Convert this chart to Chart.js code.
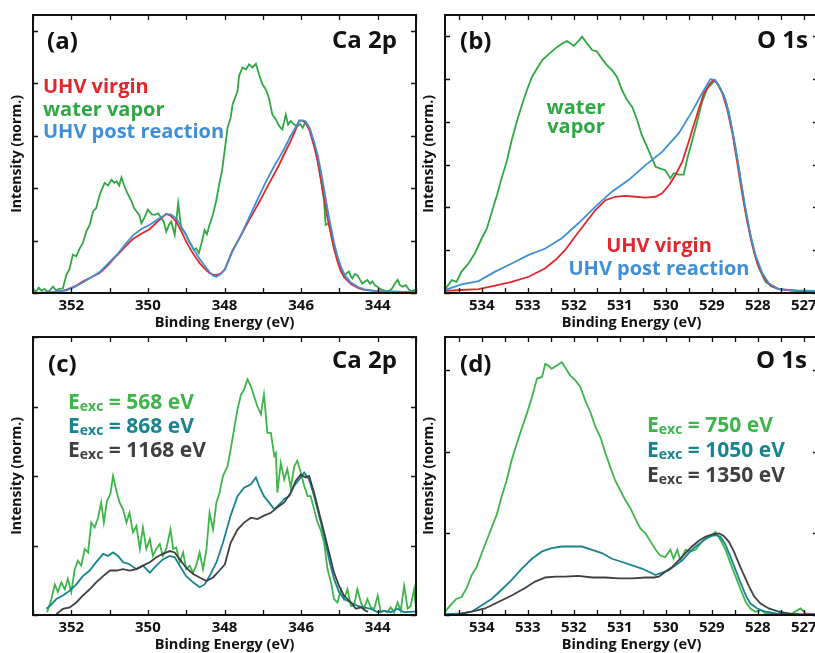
<!DOCTYPE html>
<html>
<head>
<meta charset="utf-8">
<title>Ca 2p / O 1s</title>
<script src="https://cdn.jsdelivr.net/npm/chart.js@4.4.1/dist/chart.umd.min.js"></script>
<style>
    html, body { margin: 0; padding: 0; background: #fff; overflow: hidden; }
    #page { position: relative; width: 815px; height: 653px; overflow: hidden;
            font-family: 'Open Sans', sans-serif; font-weight: 700; color: #111; }
    #page canvas { position: absolute; }
    .t { position: absolute; line-height: 1; white-space: nowrap; }
    .lab { font-size: 24px; }
    .leg { font-size: 20px; }
    .exc { font-size: 21px; }
    .sub { font-size: 14px; vertical-align: -2px; }
</style>
</head>
<body>
<div id="page">
    <canvas id="chartA" width="430" height="332" style="left:0;top:0"></canvas>
    <canvas id="chartB" width="420" height="332" style="left:412px;top:0"></canvas>
    <canvas id="chartC" width="430" height="332" style="left:0;top:322px"></canvas>
    <canvas id="chartD" width="420" height="332" style="left:412px;top:322px"></canvas>

    <div class="t lab" style="left:47px;top:28.2px">(a)</div>
    <div class="t lab" style="right:418px;top:26.7px">Ca 2p</div>
    <div class="t leg" style="left:43px;top:76.2px;color:#e3262c">UHV virgin</div>
    <div class="t leg" style="left:43px;top:98.7px;color:#2fa843">water vapor</div>
    <div class="t leg" style="left:43px;top:121.2px;color:#3f8fd6">UHV post reaction</div>

    <div class="t lab" style="left:460px;top:28.2px">(b)</div>
    <div class="t lab" style="right:7px;top:26.7px">O 1s</div>
    <div class="t leg" style="left:526px;width:100px;text-align:center;top:97.2px;color:#2fa843">water</div>
    <div class="t leg" style="left:526px;width:100px;text-align:center;top:116.2px;color:#2fa843">vapor</div>
    <div class="t leg" style="left:559px;width:200px;text-align:center;top:234.5px;color:#e3262c">UHV virgin</div>
    <div class="t leg" style="left:559px;width:200px;text-align:center;top:258.2px;color:#3f8fd6">UHV post reaction</div>

    <div class="t lab" style="left:48px;top:350.7px">(c)</div>
    <div class="t lab" style="right:418px;top:346.7px">Ca 2p</div>
    <div class="t exc" style="left:68px;top:391.4px;color:#3db54a">E<span class="sub">exc</span> = 568 eV</div>
    <div class="t exc" style="left:68px;top:415.4px;color:#18848f">E<span class="sub">exc</span> = 868 eV</div>
    <div class="t exc" style="left:68px;top:439.4px;color:#404040">E<span class="sub">exc</span> = 1168 eV</div>

    <div class="t lab" style="left:460px;top:350.7px">(d)</div>
    <div class="t lab" style="right:8px;top:346.7px">O 1s</div>
    <div class="t exc" style="left:647px;top:414.4px;color:#3db54a">E<span class="sub">exc</span> = 750 eV</div>
    <div class="t exc" style="left:647px;top:439.4px;color:#18848f">E<span class="sub">exc</span> = 1050 eV</div>
    <div class="t exc" style="left:647px;top:464.4px;color:#404040">E<span class="sub">exc</span> = 1350 eV</div>
</div>

<script>
/*------------------------------------ DATA (a) Ca 2p ------------------------------------*/
const aRedE = [353.0, 352.8, 352.6, 352.4, 352.13, 351.9, 351.7, 351.48, 351.26, 351.04,
    350.82, 350.6, 350.39, 350.17, 349.95, 349.75, 349.52, 349.4, 349.26, 349.13,
    349.0, 348.83, 348.65, 348.5, 348.39, 348.3, 348.21, 348.1, 347.99, 347.8,
    347.57, 347.35, 347.14, 346.92, 346.7, 346.57, 346.44, 346.27, 346.15, 346.05,
    345.95, 345.88, 345.78, 345.66, 345.57, 345.49, 345.4, 345.31, 345.22, 345.14,
    345.05, 344.96, 344.85, 344.7, 344.5, 344.35, 344.1, 343.92, 343.6, 343.3, 343.0];
const aRedI = [0.0, 0.0, 0.01, 0.02, 0.06, 0.13, 0.22, 0.30, 0.38, 0.53,
    0.71, 0.88, 1.03, 1.13, 1.22, 1.36, 1.51, 1.47, 1.36, 1.18,
    0.98, 0.76, 0.57, 0.45, 0.38, 0.35, 0.34, 0.37, 0.45, 0.80,
    1.10, 1.40, 1.67, 1.97, 2.27, 2.45, 2.65, 2.90, 3.10, 3.29,
    3.28, 3.24, 3.10, 2.80, 2.52, 2.19, 1.80, 1.43, 1.12, 0.85,
    0.60, 0.41, 0.28, 0.17, 0.09, 0.06, 0.04, 0.03, 0.02, 0.02, 0.02];
const aBlueE = aRedE;
const aBlueI = [0.0, 0.0, 0.01, 0.02, 0.05, 0.12, 0.20, 0.30, 0.40, 0.56,
    0.72, 0.92, 1.10, 1.22, 1.30, 1.40, 1.50, 1.50, 1.42, 1.27,
    1.10, 0.86, 0.65, 0.50, 0.40, 0.33, 0.31, 0.36, 0.45, 0.78,
    1.10, 1.45, 1.78, 2.12, 2.42, 2.58, 2.75, 3.0, 3.15, 3.28,
    3.29, 3.27, 3.15, 2.88, 2.64, 2.35, 1.98, 1.60, 1.25, 0.96,
    0.70, 0.50, 0.33, 0.20, 0.11, 0.07, 0.04, 0.03, 0.03, 0.02, 0.02];
const aGreenE = [353.0, 352.92, 352.85, 352.78, 352.7, 352.62, 352.55, 352.48, 352.4, 352.32,
    352.22, 352.13, 352.05, 351.96, 351.87, 351.78, 351.7, 351.61, 351.52, 351.43,
    351.35, 351.26, 351.2, 351.13, 351.04, 350.95, 350.88, 350.82, 350.75, 350.69,
    350.62, 350.56, 350.5, 350.43, 350.36, 350.3, 350.22, 350.17, 350.08, 350.0,
    349.9, 349.82, 349.73, 349.65, 349.58, 349.52, 349.45, 349.39, 349.3, 349.21,
    349.13, 349.06, 349.0, 348.93, 348.87, 348.8, 348.74, 348.67, 348.6, 348.52,
    348.46, 348.39, 348.3, 348.22, 348.13, 348.06, 347.99, 347.92, 347.84, 347.79,
    347.71, 347.66, 347.62, 347.53, 347.44, 347.36, 347.27, 347.18, 347.1, 347.01,
    346.92, 346.84, 346.75, 346.66, 346.57, 346.49, 346.4, 346.34, 346.27, 346.18,
    346.1, 346.02, 345.96, 345.9, 345.83, 345.75, 345.66, 345.6, 345.53, 345.46,
    345.4, 345.36, 345.27, 345.2, 345.14, 345.08, 345.01, 344.94, 344.88, 344.81,
    344.75, 344.7, 344.66, 344.6, 344.53, 344.46, 344.4, 344.33, 344.27, 344.2,
    344.14, 344.08, 344.01, 343.94, 343.88, 343.8, 343.75, 343.68, 343.62, 343.55,
    343.48, 343.42, 343.35, 343.27, 343.2, 343.14, 343.07, 343.0];
const aGreenI = [0.06, 0.03, 0.10, 0.04, 0.08, 0.02, 0.06, 0.12, 0.05, 0.08,
    0.09, 0.34, 0.45, 0.73, 0.70, 0.85, 0.95, 1.17, 1.30, 1.56,
    1.62, 1.87, 1.98, 2.10, 2.05, 2.16, 2.10, 2.13, 2.05, 2.20,
    2.05, 1.94, 1.85, 1.75, 1.62, 1.56, 1.48, 1.33, 1.45, 1.59,
    1.50, 1.49, 1.52, 1.43, 1.35, 1.17, 1.30, 1.36, 1.11, 1.71,
    1.24, 1.18, 1.11, 0.98, 0.92, 0.82, 0.85, 0.76, 0.95, 1.20,
    1.12, 1.30, 1.50, 1.75, 2.10, 2.35, 2.75, 3.15, 3.34, 3.59,
    3.75, 3.85, 4.14, 4.30, 4.26, 4.36, 4.30, 4.37, 4.17, 3.98,
    3.88, 3.72, 3.40, 3.31, 3.18, 3.12, 3.40, 3.21, 3.28, 3.21,
    3.18, 3.22, 3.15, 3.24, 3.21, 3.08, 2.80, 2.65, 2.38, 2.05,
    1.75, 1.30, 1.33, 1.05, 0.85, 0.70, 0.57, 0.45, 0.31, 0.38,
    0.41, 0.32, 0.28, 0.36, 0.34, 0.25, 0.18, 0.22, 0.25, 0.18,
    0.22, 0.15, 0.12, 0.08, 0.06, 0.04, 0.03, 0.05, 0.09, 0.18,
    0.25, 0.15, 0.12, 0.15, 0.08, 0.03, 0.05, 0.06];

/*------------------------------------ DATA (b) O 1s -------------------------------------*/
const bGreenE = [534.8, 534.65, 534.55, 534.44, 534.29, 534.15, 534.0, 533.89, 533.78, 533.67,
    533.57, 533.46, 533.35, 533.24, 533.13, 533.02, 532.91, 532.8, 532.69, 532.55,
    532.4, 532.26, 532.15, 532.0, 531.9, 531.82, 531.71, 531.6, 531.5, 531.39,
    531.28, 531.17, 531.06, 530.95, 530.84, 530.73, 530.62, 530.52, 530.41, 530.3,
    530.22, 530.12, 530.01, 529.9, 529.83, 529.72, 529.61, 529.53, 529.43, 529.32,
    529.21, 529.1, 528.99, 528.93, 528.85, 528.74, 528.63, 528.52, 528.41, 528.3,
    528.19, 528.08, 527.97, 527.83, 527.68, 527.54, 527.32, 527.1, 526.81, 526.69];
const bGreenI = [0.09, 0.30, 0.26, 0.50, 0.69, 0.93, 1.28, 1.51, 1.90, 2.29,
    2.68, 3.07, 3.57, 4.0, 4.39, 4.74, 5.05, 5.25, 5.44, 5.58,
    5.72, 5.83, 5.89, 5.78, 5.89, 5.99, 5.83, 5.68, 5.65, 5.48,
    5.33, 5.21, 5.05, 4.74, 4.51, 4.35, 4.04, 3.69, 3.42, 3.15,
    2.95, 2.91, 2.87, 2.68, 2.80, 2.77, 2.77, 3.15, 3.54, 4.0,
    4.47, 4.78, 4.9, 4.98, 4.86, 4.63, 4.24, 3.61, 2.91, 2.13,
    1.51, 0.97, 0.58, 0.26, 0.15, 0.09, 0.06, 0.05, 0.05, 0.05];
const bRedE = [534.8, 534.44, 534.07, 533.71, 533.35, 532.98, 532.62, 532.4, 532.19, 531.97,
    531.75, 531.53, 531.31, 531.1, 530.88, 530.66, 530.44, 530.22, 530.08, 529.93,
    529.79, 529.64, 529.5, 529.39, 529.28, 529.17, 529.06, 528.97, 528.88, 528.77,
    528.66, 528.55, 528.45, 528.34, 528.23, 528.12, 528.01, 527.86, 527.72, 527.54,
    527.17, 526.81, 526.69];
const bRedI = [0.05, 0.07, 0.09, 0.17, 0.26, 0.38, 0.58, 0.77, 1.0, 1.32,
    1.63, 1.94, 2.17, 2.25, 2.27, 2.25, 2.23, 2.25, 2.33, 2.52,
    2.76, 3.07, 3.54, 3.93, 4.31, 4.67, 4.86, 4.98, 4.9, 4.67,
    4.28, 3.73, 3.07, 2.33, 1.67, 1.12, 0.69, 0.34, 0.17, 0.09,
    0.05, 0.03, 0.03];
const bBlueE = [534.8, 534.44, 534.07, 533.71, 533.35, 532.98, 532.62, 532.26, 531.9, 531.53,
    531.17, 530.81, 530.44, 530.08, 529.72, 529.43, 529.21, 529.03, 528.93, 528.81,
    528.7, 528.59, 528.48, 528.37, 528.26, 528.16, 528.05, 527.9, 527.76, 527.54,
    527.17, 526.81, 526.69];
const bBlueI = [0.07, 0.20, 0.28, 0.50, 0.69, 0.89, 1.04, 1.28, 1.63, 2.02,
    2.37, 2.64, 2.99, 3.30, 3.73, 4.24, 4.67, 5.0, 4.98, 4.78,
    4.51, 4.0, 3.38, 2.64, 1.94, 1.36, 0.89, 0.46, 0.23, 0.09,
    0.06, 0.05, 0.05];

/*------------------------------------ DATA (c) Ca 2p ------------------------------------*/
const cGreenE = [352.63, 352.52, 352.43, 352.35, 352.26, 352.17, 352.09, 352.0, 351.91, 351.83,
    351.74, 351.65, 351.56, 351.48, 351.39, 351.3, 351.22, 351.15, 351.07, 350.98,
    350.91, 350.82, 350.74, 350.65, 350.56, 350.48, 350.39, 350.3, 350.21, 350.13,
    350.04, 349.95, 349.87, 349.78, 349.69, 349.61, 349.52, 349.41, 349.34, 349.26,
    349.17, 349.08, 349.0, 348.91, 348.82, 348.74, 348.65, 348.56, 348.47, 348.39,
    348.3, 348.21, 348.13, 348.04, 347.92, 347.84, 347.75, 347.66, 347.57, 347.49,
    347.4, 347.31, 347.23, 347.14, 347.05, 346.97, 346.88, 346.79, 346.7, 346.66,
    346.62, 346.53, 346.44, 346.36, 346.27, 346.18, 346.1, 346.01, 345.92, 345.83,
    345.75, 345.66, 345.57, 345.49, 345.4, 345.31, 345.22, 345.14, 345.05, 344.96,
    344.88, 344.79, 344.7, 344.62, 344.53, 344.44, 344.36, 344.27, 344.18, 344.09,
    344.0, 343.92, 343.83, 343.75, 343.66, 343.57, 343.48, 343.4, 343.31, 343.22,
    343.14, 343.05, 343.0];
const cGreenI = [0.04, 0.23, 0.44, 0.33, 0.47, 0.37, 0.52, 0.33, 0.66, 0.78,
    0.71, 0.95, 0.90, 1.33, 1.26, 1.40, 1.62, 1.33, 1.64, 1.74,
    2.0, 1.78, 1.62, 1.52, 1.33, 1.47, 1.19, 1.28, 0.95, 1.26,
    0.95, 1.09, 0.85, 0.95, 1.02, 0.85, 0.95, 1.23, 0.95, 0.97,
    0.76, 0.90, 0.66, 0.71, 0.61, 0.71, 0.90, 0.66, 0.95, 1.47,
    1.23, 1.62, 1.76, 2.0, 2.14, 2.38, 2.67, 2.96, 3.17, 3.24,
    3.39, 3.29, 3.15, 3.0, 2.89, 3.17, 2.62, 2.62, 2.29, 2.33,
    1.76, 2.19, 1.95, 2.10, 1.83, 2.14, 2.22, 2.05, 1.86, 1.71,
    1.71, 1.52, 1.33, 1.23, 1.04, 0.66, 0.47, 0.23, 0.18, 0.37,
    0.23, 0.37, 0.13, 0.13, 0.37, 0.18, 0.09, 0.23, 0.11, 0.09,
    0.28, 0.04, 0.06, 0.04, 0.11, 0.04, 0.18, 0.06, 0.42, 0.09,
    0.13, 0.37, 0.10];
const cTealE = [352.65, 352.56, 352.39, 352.22, 352.04, 351.87, 351.7, 351.52, 351.35, 351.17,
    351.04, 350.91, 350.78, 350.65, 350.48, 350.3, 350.13, 349.95, 349.78, 349.61,
    349.43, 349.3, 349.17, 349.0, 348.82, 348.65, 348.52, 348.39, 348.21, 348.04,
    347.84, 347.66, 347.49, 347.31, 347.18, 347.1, 346.97, 346.84, 346.7, 346.57,
    346.44, 346.31, 346.18, 346.05, 345.92, 345.79, 345.66, 345.53, 345.4, 345.27,
    345.14, 345.01, 344.88, 344.7, 344.53, 344.36, 344.18, 344.0, 343.83, 343.66,
    343.48, 343.31, 343.05, 343.0];
const cTealI = [0.09, 0.13, 0.23, 0.28, 0.35, 0.44, 0.56, 0.64, 0.76, 0.88,
    0.85, 0.90, 0.85, 0.76, 0.73, 0.66, 0.71, 0.61, 0.71, 0.80,
    0.85, 0.83, 0.71, 0.56, 0.47, 0.40, 0.44, 0.56, 0.76, 1.04,
    1.43, 1.71, 1.83, 1.88, 1.98, 1.86, 1.71, 1.62, 1.52, 1.59,
    1.67, 1.71, 1.86, 1.95, 2.05, 1.95, 1.71, 1.43, 1.14, 0.80,
    0.52, 0.33, 0.23, 0.18, 0.13, 0.11, 0.09, 0.04, 0.06, 0.04,
    0.09, 0.04, 0.05, 0.05];
const cGrayE = [352.39, 352.22, 352.04, 351.87, 351.7, 351.52, 351.35, 351.17, 350.99, 350.82,
    350.65, 350.48, 350.3, 350.13, 349.95, 349.78, 349.61, 349.43, 349.3, 349.17,
    349.0, 348.82, 348.65, 348.47, 348.3, 348.13, 347.99, 347.84, 347.66, 347.49,
    347.31, 347.14, 346.97, 346.79, 346.62, 346.44, 346.27, 346.14, 346.01, 345.88,
    345.79, 345.66, 345.53, 345.4, 345.27, 345.14, 345.01, 344.88, 344.7, 344.57,
    344.44, 344.31, 344.25];
const cGrayI = [0.01, 0.09, 0.11, 0.18, 0.28, 0.37, 0.47, 0.56, 0.64, 0.64,
    0.66, 0.64, 0.66, 0.71, 0.76, 0.83, 0.88, 0.92, 0.90, 0.80,
    0.68, 0.59, 0.54, 0.49, 0.54, 0.64, 0.73, 1.04, 1.23, 1.33,
    1.40, 1.38, 1.43, 1.47, 1.55, 1.62, 1.76, 1.93, 2.02, 1.98,
    2.0, 1.76, 1.47, 1.19, 0.90, 0.61, 0.42, 0.28, 0.18, 0.09,
    0.11, 0.06, 0.05];

/*------------------------------------ DATA (d) O 1s -------------------------------------*/
const dGreenE = [534.8, 534.65, 534.55, 534.44, 534.33, 534.22, 534.11, 534.0, 533.89, 533.78,
    533.67, 533.57, 533.46, 533.35, 533.24, 533.13, 533.02, 532.91, 532.8, 532.69,
    532.62, 532.55, 532.48, 532.37, 532.26, 532.19, 532.08, 531.97, 531.86, 531.75,
    531.64, 531.53, 531.42, 531.31, 531.21, 531.1, 530.99, 530.88, 530.77, 530.66,
    530.55, 530.44, 530.33, 530.22, 530.12, 530.01, 529.9, 529.83, 529.75, 529.68,
    529.57, 529.46, 529.35, 529.24, 529.14, 529.03, 528.92, 528.81, 528.7, 528.59,
    528.48, 528.37, 528.26, 528.16, 528.05, 527.94, 527.83, 527.68, 527.54, 527.25,
    527.07, 526.96, 526.81, 526.69];
const dGreenI = [0.04, 0.14, 0.20, 0.22, 0.33, 0.49, 0.59, 0.76, 0.92, 1.08,
    1.24, 1.45, 1.65, 1.90, 2.10, 2.29, 2.47, 2.67, 2.90, 2.92,
    3.08, 3.06, 3.02, 3.06, 3.10, 3.04, 2.94, 2.88, 2.80, 2.63,
    2.49, 2.31, 2.18, 1.98, 1.82, 1.65, 1.53, 1.41, 1.31, 1.18,
    1.06, 1.0, 0.90, 0.80, 0.73, 0.71, 0.80, 0.69, 0.80, 0.67,
    0.80, 0.78, 0.80, 0.88, 0.94, 0.96, 1.02, 0.92, 0.80, 0.63,
    0.47, 0.31, 0.16, 0.08, 0.04, 0.06, 0.02, 0.02, 0.01, 0.02,
    0.08, 0.02, 0.01, 0.01];
const dTealE = [534.8, 534.44, 534.22, 534.0, 533.78, 533.57, 533.35, 533.13, 532.91, 532.69,
    532.48, 532.26, 532.04, 531.82, 531.6, 531.39, 531.17, 530.95, 530.73, 530.52,
    530.37, 530.22, 530.08, 529.93, 529.79, 529.64, 529.5, 529.35, 529.21, 529.06,
    528.92, 528.81, 528.7, 528.59, 528.48, 528.37, 528.26, 528.16, 528.01, 527.83,
    527.61, 527.32, 526.69];
const dTealI = [0.01, 0.02, 0.04, 0.12, 0.20, 0.31, 0.43, 0.57, 0.69, 0.78,
    0.82, 0.84, 0.84, 0.84, 0.80, 0.76, 0.69, 0.65, 0.61, 0.57,
    0.53, 0.49, 0.52, 0.55, 0.61, 0.67, 0.76, 0.84, 0.90, 0.96,
    0.98, 0.96, 0.86, 0.71, 0.55, 0.39, 0.24, 0.14, 0.08, 0.04,
    0.02, 0.01, 0.01];
const dGrayE = [534.51, 534.22, 533.93, 533.64, 533.35, 533.06, 532.84, 532.62, 532.4, 532.19,
    531.9, 531.6, 531.31, 531.02, 530.73, 530.44, 530.26, 530.15, 530.01, 529.86,
    529.72, 529.57, 529.43, 529.28, 529.14, 528.99, 528.84, 528.74, 528.63, 528.52,
    528.41, 528.3, 528.19, 528.08, 527.94, 527.76, 527.54, 527.25, 527.1];
const dGrayI = [0.01, 0.04, 0.08, 0.16, 0.24, 0.33, 0.41, 0.46, 0.47, 0.47,
    0.48, 0.46, 0.46, 0.45, 0.45, 0.46, 0.46, 0.47, 0.53, 0.59,
    0.67, 0.76, 0.84, 0.91, 0.96, 0.99, 1.0, 0.97, 0.90, 0.78,
    0.63, 0.49, 0.35, 0.23, 0.14, 0.08, 0.04, 0.01, 0.01];

/*------------------------------------ COLOURS -------------------------------------------*/
const RED = '#e3262c', GREEN = '#2fa843', BLUE = '#3f8fd6';
const GREEN2 = '#3db54a', TEAL = '#18848f', GRAY = '#404040';

/*------------------------------------ FRAME + INWARD TICKS ------------------------------*/
const frameTicks = {
    id: 'frameTicks',
    afterDraw(chart) {
        const { ctx, chartArea: { left, right, top, bottom }, scales: { x, y } } = chart;
        const len = 5;
        ctx.save();
        ctx.strokeStyle = '#111';
        ctx.lineWidth = 1.3;
        ctx.beginPath();
        x.ticks.forEach(t => {
            const px = Math.round(x.getPixelForValue(t.value)) + 0.5;
            ctx.moveTo(px, bottom); ctx.lineTo(px, bottom - len);
            ctx.moveTo(px, top); ctx.lineTo(px, top + len);
        });
        y.ticks.forEach(t => {
            const py = Math.round(y.getPixelForValue(t.value)) + 0.5;
            ctx.moveTo(left, py); ctx.lineTo(left + len, py);
            ctx.moveTo(right, py); ctx.lineTo(right - len, py);
        });
        ctx.stroke();
        ctx.lineWidth = 2;
        ctx.strokeRect(left, top, right - left, bottom - top);
        ctx.restore();
    }
};

function series(e, v, color) {
    return {
        data: e.map((x, i) => ({ x: x, y: v[i] })),
        borderColor: color,
        borderWidth: 1.8,
        pointRadius: 0,
        tension: 0,
        fill: false
    };
}

const even2 = v => { const r = Math.round(v); return Math.abs(v - r) < 1e-6 && r % 2 === 0 ? String(r) : ''; };
const whole = v => { const r = Math.round(v); return Math.abs(v - r) < 1e-6 ? String(r) : ''; };

function panel(id, xMin, xMax, xStep, xLabel, yMax, datasets) {
    return new Chart(document.getElementById(id), {
        type: 'line',
        data: { datasets: datasets },
        options: {
            responsive: false,
            animation: false,
            events: [],
            layout: { padding: { top: 15, right: 14, left: 0, bottom: 0 } },
            plugins: { legend: { display: false }, tooltip: { enabled: false } },
            scales: {
                x: {
                    type: 'linear', reverse: true, min: xMin, max: xMax,
                    afterFit: s => { s.height = 39; },
                    grid: { display: false, drawTicks: false },
                    border: { display: false },
                    ticks: {
                        stepSize: xStep, includeBounds: false, autoSkip: false, maxRotation: 0,
                        padding: 4, color: '#111',
                        font: { family: 'Open Sans', weight: 'bold', size: 15 },
                        callback: xLabel
                    },
                    title: {
                        display: true, text: 'Binding Energy (eV)', color: '#111', padding: 0,
                        font: { family: 'Open Sans', weight: 'bold', size: 14.5 }
                    }
                },
                y: {
                    min: 0, max: yMax,
                    afterFit: s => { s.width = 33; },
                    grid: { display: false, drawTicks: false },
                    border: { display: false },
                    ticks: { display: false, stepSize: 1, includeBounds: false },
                    title: {
                        display: true, text: 'Intensity (norm.)', color: '#111',
                        padding: { top: 9, bottom: 0 },
                        font: { family: 'Open Sans', weight: 'bold', size: 14 }
                    }
                }
            }
        },
        plugins: [frameTicks]
    });
}

/*------------------------------------ RENDER --------------------------------------------*/
panel('chartA', 343, 353, 1, even2, 5.3, [
    series(aBlueE, aBlueI, BLUE),
    series(aRedE, aRedI, RED),
    series(aGreenE, aGreenI, GREEN)
]);
panel('chartB', 526.69, 534.8, 0.5, whole, 6.5, [
    series(bBlueE, bBlueI, BLUE),
    series(bRedE, bRedI, RED),
    series(bGreenE, bGreenI, GREEN)
]);
panel('chartC', 343, 353, 1, even2, 4.0, [
    series(cGrayE, cGrayI, GRAY),
    series(cTealE, cTealI, TEAL),
    series(cGreenE, cGreenI, GREEN2)
]);
panel('chartD', 526.69, 534.8, 0.5, whole, 3.41, [
    series(dGrayE, dGrayI, GRAY),
    series(dTealE, dTealI, TEAL),
    series(dGreenE, dGreenI, GREEN2)
]);
</script>
</body>
</html>
